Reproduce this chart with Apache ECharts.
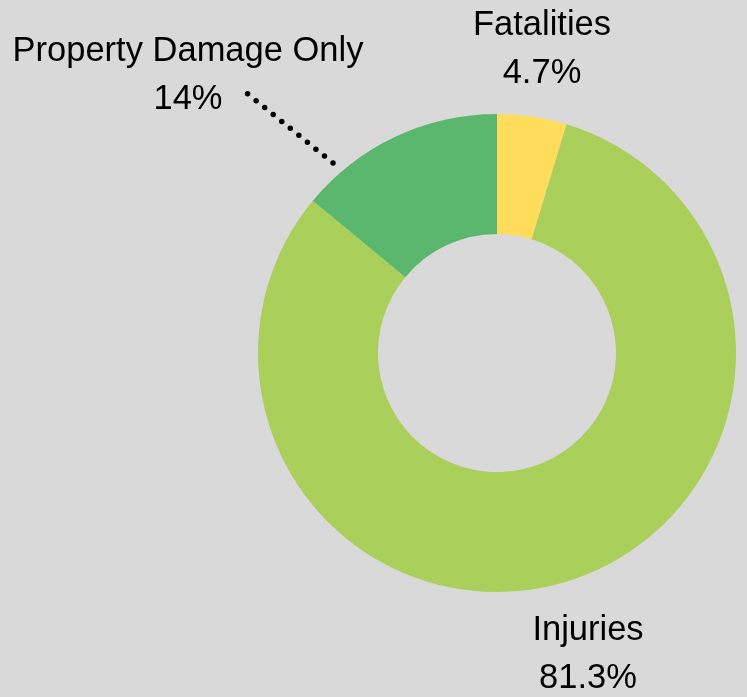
<!DOCTYPE html>
<html>
<head>
<meta charset="utf-8">
<script src="https://cdn.jsdelivr.net/npm/echarts@6/dist/echarts.min.js"></script>
<style>
html,body{margin:0;padding:0;background:#d9d9d9;}
#chart{width:747px;height:697px;}
</style>
</head>
<body>
<div id="chart"></div>
<script>
const categories = ['Fatalities', 'Injuries', 'Property Damage Only'];
const values = [4.7, 81.3, 14];
const colors = ['#ffdc5a', '#aacf5a', '#5cb76e'];

const labelPos = [
  { x: 542, y: 49 },
  { x: 588, y: 654 },
  { x: 188, y: 75 }
];

const chart = echarts.init(document.getElementById('chart'));
chart.setOption({
  backgroundColor: '#d9d9d9',
  animation: false,
  series: [{
    type: 'pie',
    center: [497, 353],
    radius: [119, 239],
    startAngle: 90,
    clockwise: true,
    avoidLabelOverlap: false,
    label: {
      show: true,
      position: 'outside',
      formatter: '{b}\n{c}%',
      fontFamily: '"Liberation Sans", Arial, sans-serif',
      fontSize: 34.5,
      lineHeight: 48,
      color: '#000',
      align: 'center'
    },
    labelLine: {
      show: true,
      lineStyle: { color: '#000', width: 5.5, type: [0, 11], cap: 'round' }
    },
    labelLayout: function (p) {
      const i = p.dataIndex;
      const o = { x: labelPos[i].x, y: labelPos[i].y, align: 'center', verticalAlign: 'middle' };
      if (i === 2) {
        o.labelLinePoints = [[333, 163], [243, 90]];
      }
      return o;
    },
    data: categories.map((c, i) => ({
      name: c,
      value: values[i],
      itemStyle: { color: colors[i] },
      labelLine: { show: i === 2 }
    }))
  }]
});
</script>
</body>
</html>
